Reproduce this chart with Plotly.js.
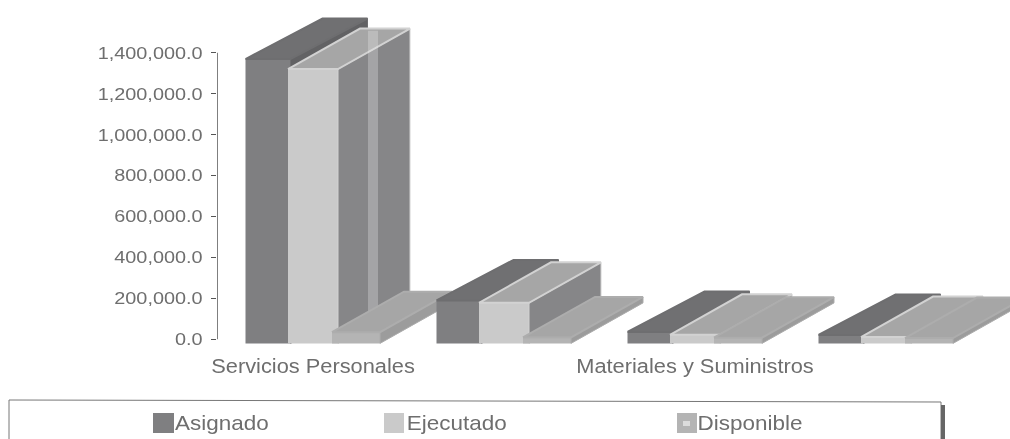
<!DOCTYPE html>
<html>
<head>
<meta charset="utf-8">
<script src="https://cdn.plot.ly/plotly-3.0.1.min.js"></script>
<style>html,body{margin:0;padding:0;background:#fff}#c{width:1010px;height:439px;filter:blur(0.6px)}</style>
</head>
<body>
<div id="c"></div>
<script>
var categories = ["Servicios Personales", "", "Materiales y Suministros", ""];
var seriesNames = ["Asignado", "Ejecutado", "Disponible"];
var asignado = [1369000, 190000, 36000, 21000];
var ejecutado = [1320000, 178000, 22000, 11000];
var disponible = [35000, 9000, 8000, 6000];
var yTicks = [0, 200000, 400000, 600000, 800000, 1000000, 1200000, 1400000];

var series = [asignado, ejecutado, disponible];
var W = 1010, H = 439, L = 217, PB = 346;
var pxX = 191, pxY = 1 / 4885;
var xRange = [(L - 313) / pxX, (W - 313) / pxX];
var yRange = [-(PB - 339.3) / pxY, 339.3 / pxY];
var BASE = -20000;
var offs = [-45 / pxX, 0, 43 / pxX];
var widths = [45 / pxX, 50 / pxX, 48 / pxX];
var DXS = [77 / pxX, 72 / pxX, 72 / pxX], DY = 40.5 / pxY;
var frontC = ["#7f7f81", "#cacaca", "#b4b4b4"];
var topC = ["#707072", "#a6a6a6", "#a6a6a6"];
var sideC = ["#626264", "#868688", "#9c9c9c"];
var edgeC = ["#6e6e70", "#d2d2d2", "#adadad"];

var traces = [], layout = {
  width: W, height: H, showlegend: false, paper_bgcolor: "#fff", plot_bgcolor: "#fff",
  margin: {l: L, r: 0, t: 0, b: H - PB, pad: 0},
  font: {family: "Liberation Sans, Arial, sans-serif", color: "#6e6e6e"},
  xaxis: {range: xRange, tickmode: "array", tickvals: [0, 2], ticktext: [categories[0], categories[2]],
    showgrid: false, zeroline: false, showline: false, ticks: "outside", ticklen: 2, tickcolor: "rgba(0,0,0,0)",
    tickfont: {size: 20, color: "#6e6e6e"}, automargin: false},
  yaxis: {range: yRange, tickmode: "array", tickvals: yTicks, tickformat: ",.1f",
    showgrid: false, zeroline: false, showline: false, ticks: "outside", ticklen: 5, tickcolor: "#555", tickwidth: 1.5,
    ticklabelstandoff: 5, tickfont: {size: 17, color: "#6e6e6e"}, automargin: false},
  shapes: [], annotations: []
};

var n = 0;
categories.forEach(function (c, g) {
  series.forEach(function (vals, s) {
    n++;
    var xa = n === 1 ? "x" : "x" + n, ya = n === 1 ? "y" : "y" + n;
    if (n > 1) {
      layout["xaxis" + n] = {range: xRange, overlaying: "x", visible: false};
      layout["yaxis" + n] = {range: yRange, overlaying: "y", visible: false};
    }
    var x0 = g + offs[s] - widths[s] / 2, x1 = x0 + widths[s], v = vals[g], DX = DXS[s];
    traces.push({type: "bar", x: [g + offs[s]], y: [v - BASE], base: BASE, width: widths[s], xaxis: xa, yaxis: ya,
      marker: {color: frontC[s], line: {width: 0}}, hoverinfo: "skip"});
    traces.push({type: "scatter", mode: "lines", fill: "toself", fillcolor: sideC[s], xaxis: xa, yaxis: ya,
      x: [x1, x1 + DX, x1 + DX, x1, x1], y: [BASE, BASE + DY, v + DY, v, BASE],
      line: {color: edgeC[s], width: 1}, hoverinfo: "skip"});
    traces.push({type: "scatter", mode: "lines", fill: "toself", fillcolor: topC[s], xaxis: xa, yaxis: ya,
      x: [x0, x1, x1 + DX, x0 + DX, x0], y: [v, v, v + DY, v + DY, v],
      line: {color: edgeC[s], width: 2}, hoverinfo: "skip"});
    // pale vertical band seen on the tall column's side face
    if (s === 1 && v > 1000000) {
      traces.push({type: "scatter", mode: "lines", fill: "toself", fillcolor: "rgba(235,235,235,0.3)", line: {width: 0}, xaxis: xa, yaxis: ya,
        x: [x1 + 30 / pxX, x1 + 40 / pxX, x1 + 40 / pxX, x1 + 30 / pxX, x1 + 30 / pxX],
        y: [BASE + 5000, BASE + 5000, v + DY - 10000, v + DY - 10000, BASE + 5000], hoverinfo: "skip"});
    }
  });
});

// y axis line, only as far as the top tick
traces.push({type: "scatter", mode: "lines", x: [xRange[0], xRange[0]], y: [yTicks[0], yTicks[yTicks.length - 1]],
  line: {color: "#555", width: 1.5}, cliponaxis: false, hoverinfo: "skip"});

function px(x) { return (x - L) / (W - L); }
function py(y) { return (PB - y) / PB; }
function paperShape(o) { o.xref = "paper"; o.yref = "paper"; layout.shapes.push(o); }

// legend box (runs off the bottom of the page)
paperShape({type: "path", path: "M " + px(9) + " " + py(445) + " L " + px(9) + " " + py(400) + " L " + px(941) + " " + py(402) + " L " + px(941) + " " + py(445),
  line: {color: "#777", width: 1}, fillcolor: "rgba(0,0,0,0)"});
paperShape({type: "rect", x0: px(941), x1: px(945), y0: py(445), y1: py(405), line: {width: 0}, fillcolor: "#666"});

var legendX = [153, 384, 677], legendW = [21, 20, 20], legendMid = [222, 456.5, 749.5];
seriesNames.forEach(function (name, s) {
  paperShape({type: "rect", x0: px(legendX[s]), x1: px(legendX[s] + legendW[s]), y0: py(433), y1: py(413),
    line: {width: 0}, fillcolor: frontC[s]});
  layout.annotations.push({xref: "paper", yref: "paper", x: px(legendMid[s]), y: py(423), xanchor: "center", yanchor: "middle",
    text: name, showarrow: false, font: {size: 21, color: "#6e6e6e"}});
});
paperShape({type: "rect", x0: px(683), x1: px(690), y0: py(426), y1: py(421), line: {width: 0}, fillcolor: "#dcdcdc"});

// the scanned text is wider than the font: stretch the real text horizontally
function stretch(sel, ratio) {
  document.querySelectorAll(sel).forEach(function (t) {
    var w = t.getComputedTextLength();
    t.setAttribute("textLength", w * ratio);
    t.setAttribute("lengthAdjust", "spacingAndGlyphs");
  });
}
Plotly.newPlot("c", traces, layout, {displayModeBar: false, staticPlot: true}).then(function () {
  stretch("#c .ytick text", 1.168);
  stretch("#c .xtick text", 1.09);
  stretch("#c .annotation-text", 1.07);
});
</script>
</body>
</html>
